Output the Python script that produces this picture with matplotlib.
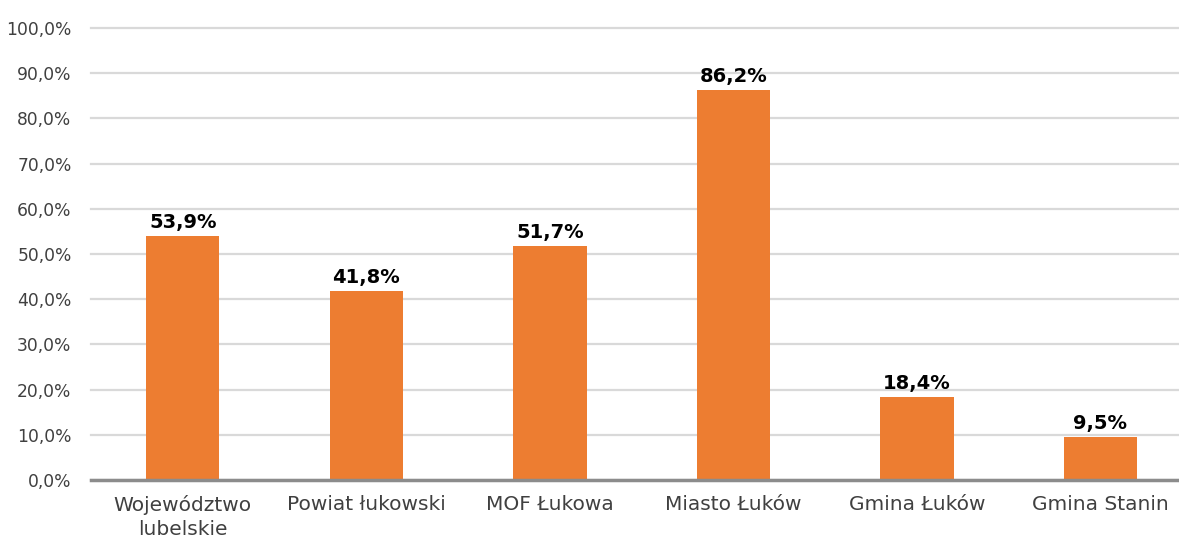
import matplotlib.pyplot as plt
from matplotlib.ticker import FuncFormatter

# ------------------------------------------------
#  Dane
# ------------------------------------------------
categories = ["Województwo\nlubelskie", "Powiat łukowski", "MOF Łukowa",
              "Miasto Łuków", "Gmina Łuków", "Gmina Stanin"]
values = [53.9, 41.8, 51.7, 86.2, 18.4, 9.5]
value_labels = ["53,9%", "41,8%", "51,7%", "86,2%", "18,4%", "9,5%"]

BAR_COLOR = "#ED7D31"
GRID_COLOR = "#D9D9D9"
TEXT_COLOR = "#404040"

plt.rcParams["font.family"] = ["DejaVu Sans"]

fig = plt.figure(figsize=(11.79, 5.41), dpi=100)
ax = fig.add_axes([0.0772, 0.1128, 0.934, 0.8355])

x = list(range(len(categories)))
bars = ax.bar(x, values, width=0.40, color=BAR_COLOR, zorder=3)

for b, lab in zip(bars, value_labels):
    ax.annotate(lab, (b.get_x() + b.get_width() / 2, b.get_height()),
                xytext=(0, 3), textcoords="offset points",
                ha="center", va="bottom", fontsize=14, fontweight="bold",
                color="black")

ax.set_xlim(-0.5, len(categories) - 0.5)
ax.set_ylim(0, 100)
ax.set_yticks(range(0, 101, 10))
ax.yaxis.set_major_formatter(FuncFormatter(lambda v, p: f"{v:.1f}%".replace(".", ",")))
ax.set_xticks(x)
ax.set_xticklabels(categories, fontsize=14.5, color=TEXT_COLOR, linespacing=1.3)
ax.tick_params(axis="y", labelsize=12.3, labelcolor=TEXT_COLOR, length=0, pad=14)
ax.tick_params(axis="x", length=0, pad=11)

ax.grid(axis="y", color=GRID_COLOR, linewidth=1.6, zorder=0)
for gl in ax.get_ygridlines():
    gl.set_clip_on(False)
for s in ["top", "right", "left"]:
    ax.spines[s].set_visible(False)
ax.spines["bottom"].set_color("#8C8C8C")
ax.spines["bottom"].set_linewidth(2.5)
ax.spines["bottom"].set_zorder(4)

fig.savefig("out.png", dpi=100)
